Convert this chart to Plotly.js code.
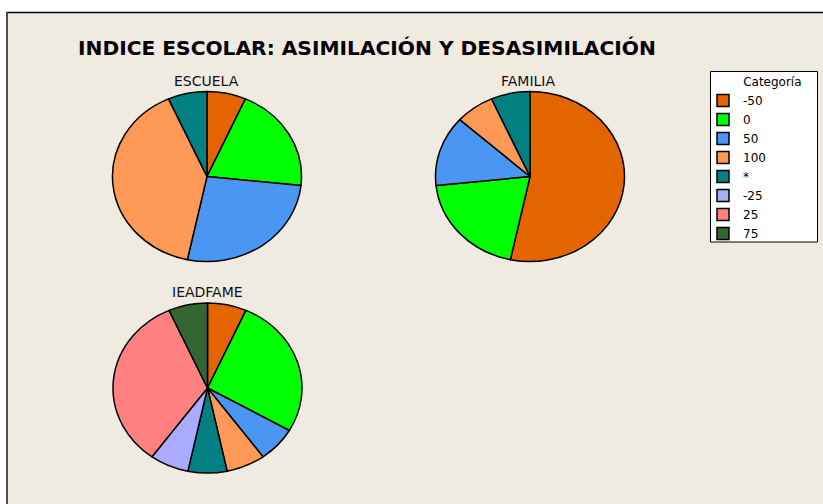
<!DOCTYPE html>
<html>
<head>
<meta charset="utf-8">
<script src="https://cdn.plot.ly/plotly-3.0.1.min.js"></script>
<style>
html,body{margin:0;padding:0;background:#fff;}
#chart{width:823px;height:504px;}
</style>
</head>
<body>
<div id="chart"></div>
<script>
const categories = ['-50', '0', '50', '100', '*', '-25', '25', '75'];
const categoryColors = ['#E46400', '#00FF00', '#4A96F2', '#FF9955', '#008080', '#AAAAFF', '#FF8080', '#346634'];
const escuelaLabels = ['-50', '0', '50', '100', '*'];
const escuelaValues = [1, 3, 4, 6, 1];
const familiaLabels = ['-50', '0', '50', '100', '*'];
const familiaValues = [8, 3, 2, 1, 1];
const ieadfameLabels = ['-50', '0', '50', '100', '*', '-25', '25', '75'];
const ieadfameValues = [1, 4, 1, 1, 1, 1, 5, 1];
const pieTitles = ['ESCUELA', 'FAMILIA', 'IEADFAME'];
const chartTitle = 'INDICE ESCOLAR: ASIMILACIÓN Y DESASIMILACIÓN';
const legendTitle = 'Categoría';

const W = 823, H = 504;
const px = v => v / W;
const py = v => 1 - v / H;
const R = 85;          // vertical radius in px
const stretchX = 94.5 / 85; // pies are drawn slightly wider than tall

function colorFor(lbls) {
  return lbls.map(l => categoryColors[categories.indexOf(l)]);
}
function pieTrace(lbls, vals, cx, cy, name) {
  return {
    type: 'pie',
    name: name,
    labels: lbls,
    values: vals,
    sort: false,
    direction: 'clockwise',
    rotation: 0,
    textinfo: 'none',
    hoverinfo: 'label+value+percent',
    marker: {colors: colorFor(lbls), line: {color: '#000', width: 1.5}},
    domain: {x: [px(cx - R), px(cx + R)], y: [py(cy + R), py(cy - R)]}
  };
}

const data = [
  pieTrace(escuelaLabels, escuelaValues, 207, 176.5, pieTitles[0]),
  pieTrace(familiaLabels, familiaValues, 530, 176.5, pieTitles[1]),
  pieTrace(ieadfameLabels, ieadfameValues, 207.5, 388, pieTitles[2])
];

const font = 'DejaVu Sans, Verdana, sans-serif';
const nb = '&nbsp;';
const layout = {
  width: W, height: H,
  margin: {l: 0, r: 0, t: 0, b: 0},
  paper_bgcolor: '#EFEBE1',
  plot_bgcolor: '#EFEBE1',
  font: {family: font, size: 12, color: '#000'},
  showlegend: true,
  legend: {
    x: px(703), y: py(70.5), xanchor: 'left', yanchor: 'top',
    bgcolor: 'rgba(0,0,0,0)', borderwidth: 0,
    font: {family: font, size: 12, color: '#000'},
    title: {text: nb.repeat(10) + legendTitle, font: {family: font, size: 12, color: '#000'}},
    traceorder: 'normal'
  },
  shapes: [
    {type: 'rect', xref: 'paper', yref: 'paper', x0: 0, x1: 1, y0: py(12.5), y1: 1, fillcolor: '#FFFFFF', line: {width: 0}, layer: 'below'},
    {type: 'rect', xref: 'paper', yref: 'paper', x0: 0, x1: px(6), y0: 0, y1: 1, fillcolor: '#FFFFFF', line: {width: 0}, layer: 'below'},
    {type: 'line', xref: 'paper', yref: 'paper', x0: px(6), x1: 1, y0: py(12.5), y1: py(12.5), line: {color: '#000', width: 1.5}},
    {type: 'line', xref: 'paper', yref: 'paper', x0: px(7), x1: px(7), y0: 0, y1: py(12), line: {color: '#4D4D4D', width: 2}},
    {type: 'rect', xref: 'paper', yref: 'paper', x0: px(710.5), x1: px(817.5), y0: py(242), y1: py(71.5), fillcolor: '#FFFFFF', line: {color: '#000', width: 1}, layer: 'below'}
  ],
  annotations: [
    {text: '<b>' + chartTitle + '</b>', xref: 'paper', yref: 'paper', x: px(367), y: py(48), xanchor: 'center', yanchor: 'middle', showarrow: false, font: {family: font, size: 20.2, color: '#000'}},
    {text: pieTitles[0], xref: 'paper', yref: 'paper', x: px(206), y: py(81.5), xanchor: 'center', yanchor: 'middle', showarrow: false, font: {family: font, size: 14, color: '#111'}},
    {text: pieTitles[1], xref: 'paper', yref: 'paper', x: px(528), y: py(81.5), xanchor: 'center', yanchor: 'middle', showarrow: false, font: {family: font, size: 14, color: '#111'}},
    {text: pieTitles[2], xref: 'paper', yref: 'paper', x: px(207), y: py(292), xanchor: 'center', yanchor: 'middle', showarrow: false, font: {family: font, size: 14, color: '#111'}}
  ]
};

const gd = document.getElementById('chart');
Plotly.newPlot(gd, data, layout, {displayModeBar: false, staticPlot: true}).then(function () {
  const groups = gd.querySelectorAll('.pielayer g.trace');
  groups.forEach(function (g, i) {
    const cd0 = gd.calcdata[i][0];
    const cx = cd0.cx, cy = cd0.cy;
    g.setAttribute('transform', 'translate(' + cx + ',' + cy + ') scale(' + stretchX + ',1) translate(' + (-cx) + ',' + (-cy) + ')');
    g.querySelectorAll('path').forEach(p => p.setAttribute('vector-effect', 'non-scaling-stroke'));
  });
});
</script>
</body>
</html>
